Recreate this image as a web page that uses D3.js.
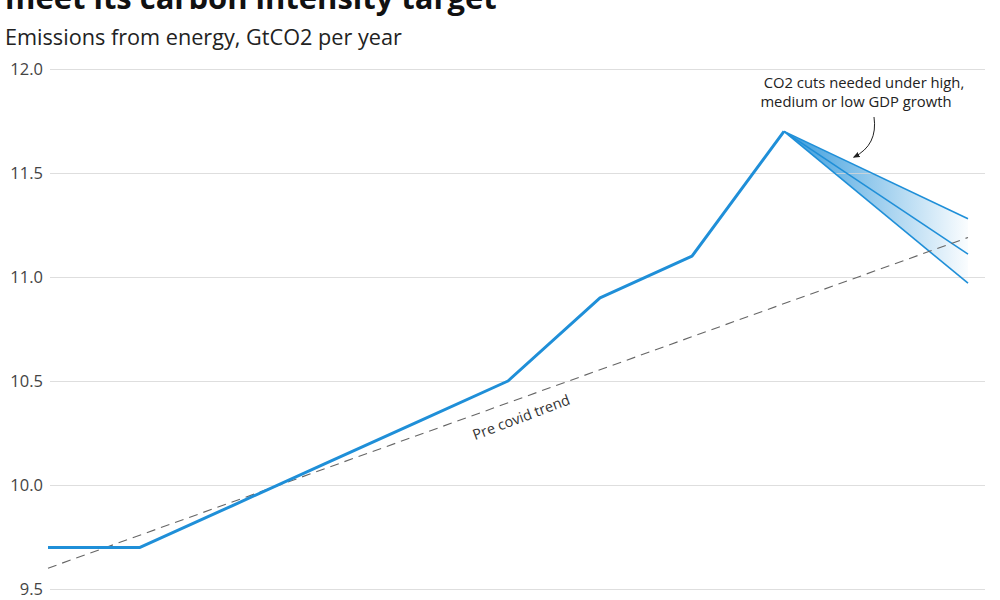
<!DOCTYPE html>
<html>
<head>
<meta charset="utf-8">
<script src="https://cdn.jsdelivr.net/npm/d3@7"></script>
<style>
  body { margin: 0; background: #fff; }
  svg { display: block; font-family: "Open Sans", sans-serif; }
</style>
</head>
<body>
<div id="chart"></div>
<script>
// Data
const years = [2015, 2016, 2017, 2018, 2019, 2020, 2021, 2022, 2023];
const emissions = [9.7, 9.7, 9.9, 10.1, 10.3, 10.5, 10.9, 11.1, 11.7];
const trendYears = [2015, 2025];
const trendValues = [9.6, 11.19];
const scenarioNames = ['high', 'medium', 'low'];
const scenarioYears = [2023, 2025];
const scenarioEnds = [11.28, 11.11, 10.97];
const yTicks = [9.5, 10.0, 10.5, 11.0, 11.5, 12.0];

function draw() {
  const dimensions = {
    width: 1000,
    height: 600,
    margin: { top: 69, bottom: 11, left: 48, right: 32 }
  };
  const blue = '#1f8fd8';

  const svg = d3.select('#chart')
    .append('svg')
    .attr('width', dimensions.width)
    .attr('height', dimensions.height);

  // Scales
  const xScale = d3.scaleLinear()
    .domain([2015, 2025])
    .range([dimensions.margin.left, dimensions.width - dimensions.margin.right]);

  const yScale = d3.scaleLinear()
    .domain([9.5, 12.0])
    .range([dimensions.height - dimensions.margin.bottom, dimensions.margin.top]);

  // Title and subtitle, fitted to the widths in the picture
  const fit = (sel, w) => {
    const len = sel.node().getComputedTextLength();
    const size = parseFloat(sel.attr('font-size'));
    sel.attr('font-size', size * w / len);
  };

  // title is cropped at the top edge, as in the source image
  const title = svg.append('text')
    .attr('x', 5).attr('y', 9)
    .attr('font-size', 30)
    .attr('font-weight', 700)
    .attr('fill', '#111')
    .text('meet its carbon intensity target');
  fit(title, 492);

  const subtitle = svg.append('text')
    .attr('x', 5).attr('y', 45)
    .attr('font-size', 20)
    .attr('fill', '#222')
    .text('Emissions from energy, GtCO2 per year');
  fit(subtitle, 397);

  const defs = svg.append('defs');

  // Fan gradient
  const grad = defs.append('linearGradient')
    .attr('id', 'fan')
    .attr('gradientUnits', 'userSpaceOnUse')
    .attr('x1', xScale(scenarioYears[0])).attr('x2', xScale(scenarioYears[1]))
    .attr('y1', 0).attr('y2', 0);
  grad.append('stop').attr('offset', 0).attr('stop-color', blue).attr('stop-opacity', 0.9);
  grad.append('stop').attr('offset', 0.5).attr('stop-color', blue).attr('stop-opacity', 0.45);
  grad.append('stop').attr('offset', 1).attr('stop-color', blue).attr('stop-opacity', 0.02);

  const peak = emissions[emissions.length - 1];
  const fanPts = [
    [scenarioYears[0], peak],
    [scenarioYears[1], d3.max(scenarioEnds)],
    [scenarioYears[1], d3.min(scenarioEnds)]
  ];
  svg.append('path')
    .attr('d', d3.line().x(d => xScale(d[0])).y(d => yScale(d[1]))(fanPts) + 'Z')
    .attr('fill', 'url(#fan)');

  // Grid + y axis
  const yAxis = d3.axisLeft(yScale)
    .tickValues(yTicks)
    .tickFormat(d3.format('.1f'))
    .tickSize(-(985 - 50))
    .tickPadding(7);

  const yg = svg.append('g')
    .attr('transform', 'translate(50,0)')
    .call(yAxis);
  yg.select('.domain').remove();
  yg.selectAll('.tick line').attr('stroke', '#d6d6d6').attr('stroke-opacity', 0.8).attr('stroke-width', 1);
  yg.selectAll('.tick text')
    .attr('font-size', 16.5)
    .attr('fill', '#444')
    .attr('font-family', '"Open Sans", sans-serif');

  svg.selectAll('.scenario')
    .data(scenarioEnds)
    .join('line')
    .attr('class', 'scenario')
    .attr('x1', xScale(scenarioYears[0]))
    .attr('y1', yScale(peak))
    .attr('x2', xScale(scenarioYears[1]))
    .attr('y2', d => yScale(d))
    .attr('stroke', blue)
    .attr('stroke-width', 1.6);

  // Pre covid trend
  svg.append('line')
    .attr('x1', xScale(trendYears[0])).attr('y1', yScale(trendValues[0]))
    .attr('x2', xScale(trendYears[1])).attr('y2', yScale(trendValues[1]))
    .attr('stroke', '#666')
    .attr('stroke-width', 1.1)
    .attr('stroke-dasharray', '9,6');

  // Main line
  const line = d3.line()
    .x((d, i) => xScale(years[i]))
    .y(d => yScale(d));
  svg.append('path')
    .attr('d', line(emissions))
    .attr('fill', 'none')
    .attr('stroke', blue)
    .attr('stroke-width', 3)
    .attr('stroke-linejoin', 'round');

  // Annotations
  const tx1 = xScale(trendYears[0]), ty1 = yScale(trendValues[0]);
  const tx2 = xScale(trendYears[1]), ty2 = yScale(trendValues[1]);
  const angle = Math.atan2(ty2 - ty1, tx2 - tx1) * 180 / Math.PI;
  svg.append('text')
    .attr('transform', `translate(523,422) rotate(${angle - 1})`)
    .attr('text-anchor', 'middle')
    .attr('font-size', 14.5)
    .attr('fill', '#333')
    .text('Pre covid trend');

  const note = svg.append('text')
    .attr('text-anchor', 'middle')
    .attr('font-size', 14.8)
    .attr('fill', '#222');
  note.append('tspan').attr('x', 864).attr('y', 88).text('CO2 cuts needed under high,');
  note.append('tspan').attr('x', 856).attr('y', 107).text('medium or low GDP growth');

  defs.append('marker')
    .attr('id', 'arrow')
    .attr('viewBox', '0 0 10 10')
    .attr('refX', 8).attr('refY', 5)
    .attr('markerWidth', 7).attr('markerHeight', 7)
    .attr('orient', 'auto')
    .append('path')
    .attr('d', 'M0,1 L10,5 L0,9 Z')
    .attr('fill', '#222');

  svg.append('path')
    .attr('d', 'M874,117 Q878,145 854,157')
    .attr('fill', 'none')
    .attr('stroke', '#222')
    .attr('stroke-width', 1)
    .attr('marker-end', 'url(#arrow)');
}

draw();
</script>
</body>
</html>
